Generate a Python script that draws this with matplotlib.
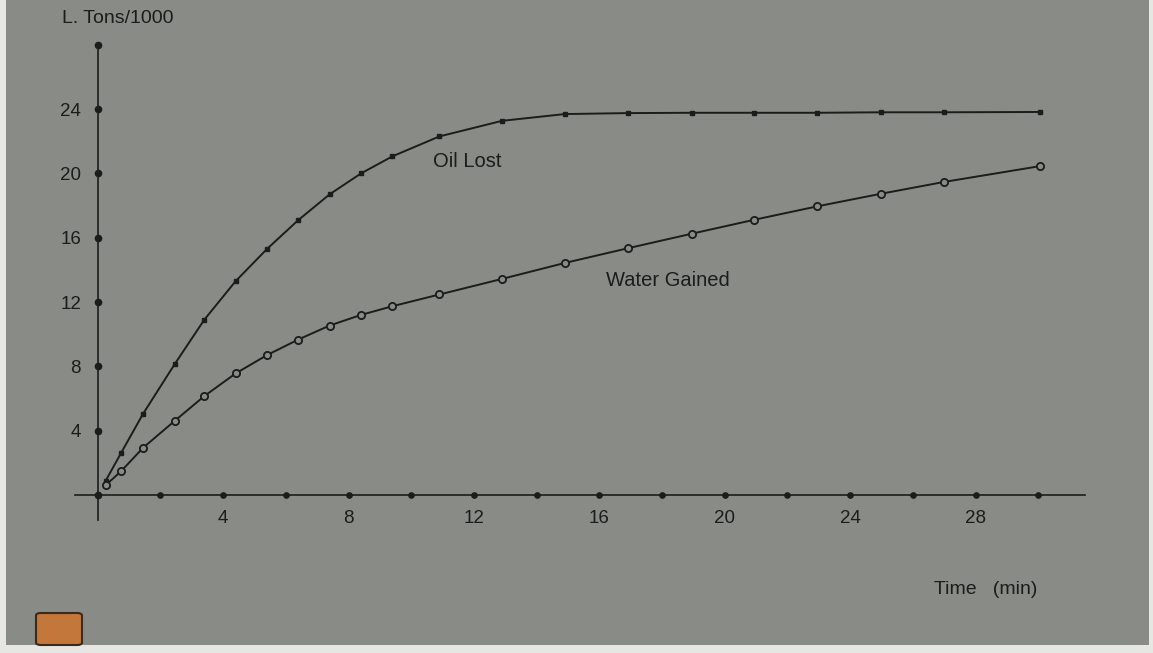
import matplotlib
matplotlib.use("Agg")
import matplotlib.pyplot as plt
from matplotlib.patches import Rectangle, FancyBboxPatch

# ---- data ----
time_min = [0.25, 0.75, 1.45, 2.45, 3.4, 4.4, 5.4, 6.4, 7.4, 8.4, 9.4, 10.9,
            12.9, 14.9, 16.9, 18.95, 20.95, 22.95, 25.0, 27.0, 30.05]
oil_lost = [0.87, 2.63, 5.06, 8.12, 10.9, 13.3, 15.3, 17.1, 18.7, 20.0, 21.06,
            22.3, 23.27, 23.69, 23.75, 23.77, 23.77, 23.77, 23.8, 23.8, 23.82]
water_gained = [0.6, 1.49, 2.94, 4.6, 6.15, 7.56, 8.7, 9.67, 10.54, 11.2, 11.74,
                12.47, 13.44, 14.43, 15.34, 16.25, 17.12, 17.95, 18.74, 19.47, 20.45]
x_tick_labels = [4, 8, 12, 16, 20, 24, 28]
y_tick_labels = [4, 8, 12, 16, 20, 24]
x_dot_ticks = list(range(0, 31, 2))
y_dot_ticks = list(range(0, 29, 4))

BG = "#898c86"
INK = "#1c1c1a"
FONT = "Liberation Sans"

W, H = 1153, 653
fig = plt.figure(figsize=(W / 100, H / 100), dpi=100)
fig.patch.set_facecolor("#e6e6e2")

ax = fig.add_axes([0, 0, 1, 1])
ax.set_facecolor("none")
x0px, xppu = 97.7, 31.35
y0px, yppu = 495.0, 16.08
ax.set_xlim(-x0px / xppu, (W - x0px) / xppu)
ax.set_ylim((y0px - H) / yppu, y0px / yppu)

# slide area (photo frame) behind everything
ax.add_patch(Rectangle((6 / W, 8 / H), (1149 - 6) / W, 1 - 8 / H,
                       transform=fig.transFigure, facecolor=BG,
                       edgecolor="none", zorder=-10, clip_on=False))
# small orange slide sticker
ax.add_patch(FancyBboxPatch((36 / W, 1 - 645 / H), 46 / W, 32 / H,
                            boxstyle="round,pad=0,rounding_size=0.004",
                            transform=fig.transFigure,
                            facecolor="#c4773a", edgecolor="#3a2a1a",
                            linewidth=1.5, zorder=-5, clip_on=False))

for s in ("top", "right"):
    ax.spines[s].set_visible(False)
ax.spines["left"].set_position(("data", 0))
ax.spines["bottom"].set_position(("data", 0))
ax.spines["left"].set_bounds(-1.55, 28)
ax.spines["bottom"].set_bounds(-0.72, 31.5)
for s in ("left", "bottom"):
    ax.spines[s].set_color(INK)
    ax.spines[s].set_linewidth(1.2)

ax.set_xticks(x_tick_labels)
ax.set_xticklabels([str(v) for v in x_tick_labels])
ax.set_yticks(y_tick_labels)
ax.set_yticklabels([str(v) for v in y_tick_labels])
ax.tick_params(axis="both", length=0, labelsize=13.5, labelcolor=INK)
ax.tick_params(axis="x", pad=11)
ax.tick_params(axis="y", pad=12)
for lab in ax.get_xticklabels() + ax.get_yticklabels():
    lab.set_fontfamily(FONT)

# axis dot ticks
ax.plot(x_dot_ticks, [0] * len(x_dot_ticks), linestyle="none", marker="o",
        markersize=3.8, color=INK, clip_on=False, zorder=4)
ax.plot([0] * len(y_dot_ticks), y_dot_ticks, linestyle="none", marker="o",
        markersize=4.5, color=INK, clip_on=False, zorder=4)

# series
ax.plot(time_min, oil_lost, color=INK, linewidth=1.4, marker="s",
        markersize=3.2, markerfacecolor=INK, markeredgecolor=INK, zorder=5)
ax.plot(time_min, water_gained, color=INK, linewidth=1.4, marker="o",
        markersize=5.2, markerfacecolor=BG, markeredgecolor=INK,
        markeredgewidth=1.3, zorder=5)

ax.text(11.78, 20.77, "Oil Lost", fontsize=14.5, family=FONT, color=INK,
        ha="center", va="center")
ax.text(18.19, 13.37, "Water Gained", fontsize=14.5, family=FONT, color=INK,
        ha="center", va="center")
ax.text(0.65, 29.66, "L. Tons/1000", fontsize=14, family=FONT, color=INK,
        ha="center", va="center")
ax.text(28.34, -5.9, "Time   (min)", fontsize=14, family=FONT, color=INK,
        ha="center", va="center")

fig.savefig("out.png", dpi=100, facecolor=fig.get_facecolor())
